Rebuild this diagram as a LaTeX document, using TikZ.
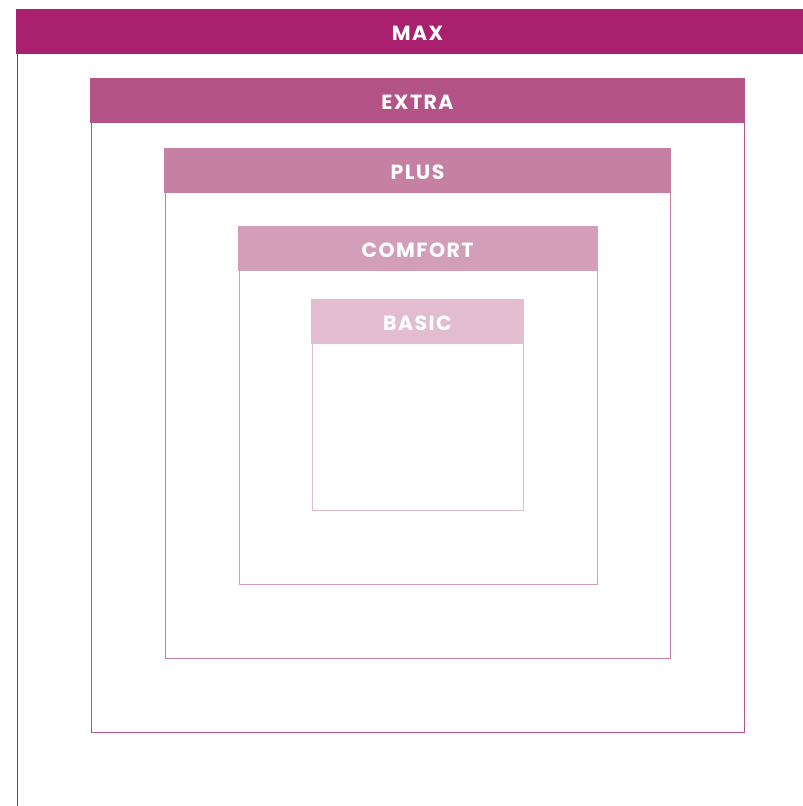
\documentclass[tikz,border=0pt]{standalone}
\usepackage{fontspec}
\setmainfont{Poppins}
\definecolor{maxc}{HTML}{A8206E}
\definecolor{extrac}{HTML}{B45386}
\definecolor{plusc}{HTML}{C580A3}
\definecolor{comfortc}{HTML}{D29EB8}
\definecolor{basicc}{HTML}{E2BDCF}
\tikzset{
  tier/.style={font=\fontsize{20.5}{20.5}\selectfont\bfseries\addfontfeature{LetterSpace=7}, text=white},
  frame/.style={line width=0.9pt}
}
\begin{document}
\begin{tikzpicture}[x=1pt,y=-1pt]
  \useasboundingbox (0,0) rectangle (803,806);
  \clip (0,0) rectangle (803,806);
  % frames
  \draw[frame,maxc] (17,9) rectangle (820,830);
  \draw[frame,extrac] (91,78) rectangle (744,732);
  \draw[frame,plusc] (165,148) rectangle (670,658);
  \draw[frame,comfortc] (239,226) rectangle (597,584);
  \draw[frame,basicc] (312,299) rectangle (523,510);
  % headers
  \fill[maxc] (16,9) rectangle (820,54);
  \fill[extrac] (90,78) rectangle (745,123);
  \fill[plusc] (164,148) rectangle (671,193);
  \fill[comfortc] (238,226) rectangle (598,271);
  \fill[basicc] (311,299) rectangle (523,344);
  \node[tier] (max) at (417.5,33.5) {MAX};
  \node[tier] (extra) at (417.5,102.5) {EXTRA};
  \node[tier] (plus) at (417.5,172.5) {PLUS};
  \node[tier] (comfort) at (417.5,250.5) {COMFORT};
  \node[tier] (basic) at (417.5,323.5) {BASIC};
\end{tikzpicture}
\end{document}
